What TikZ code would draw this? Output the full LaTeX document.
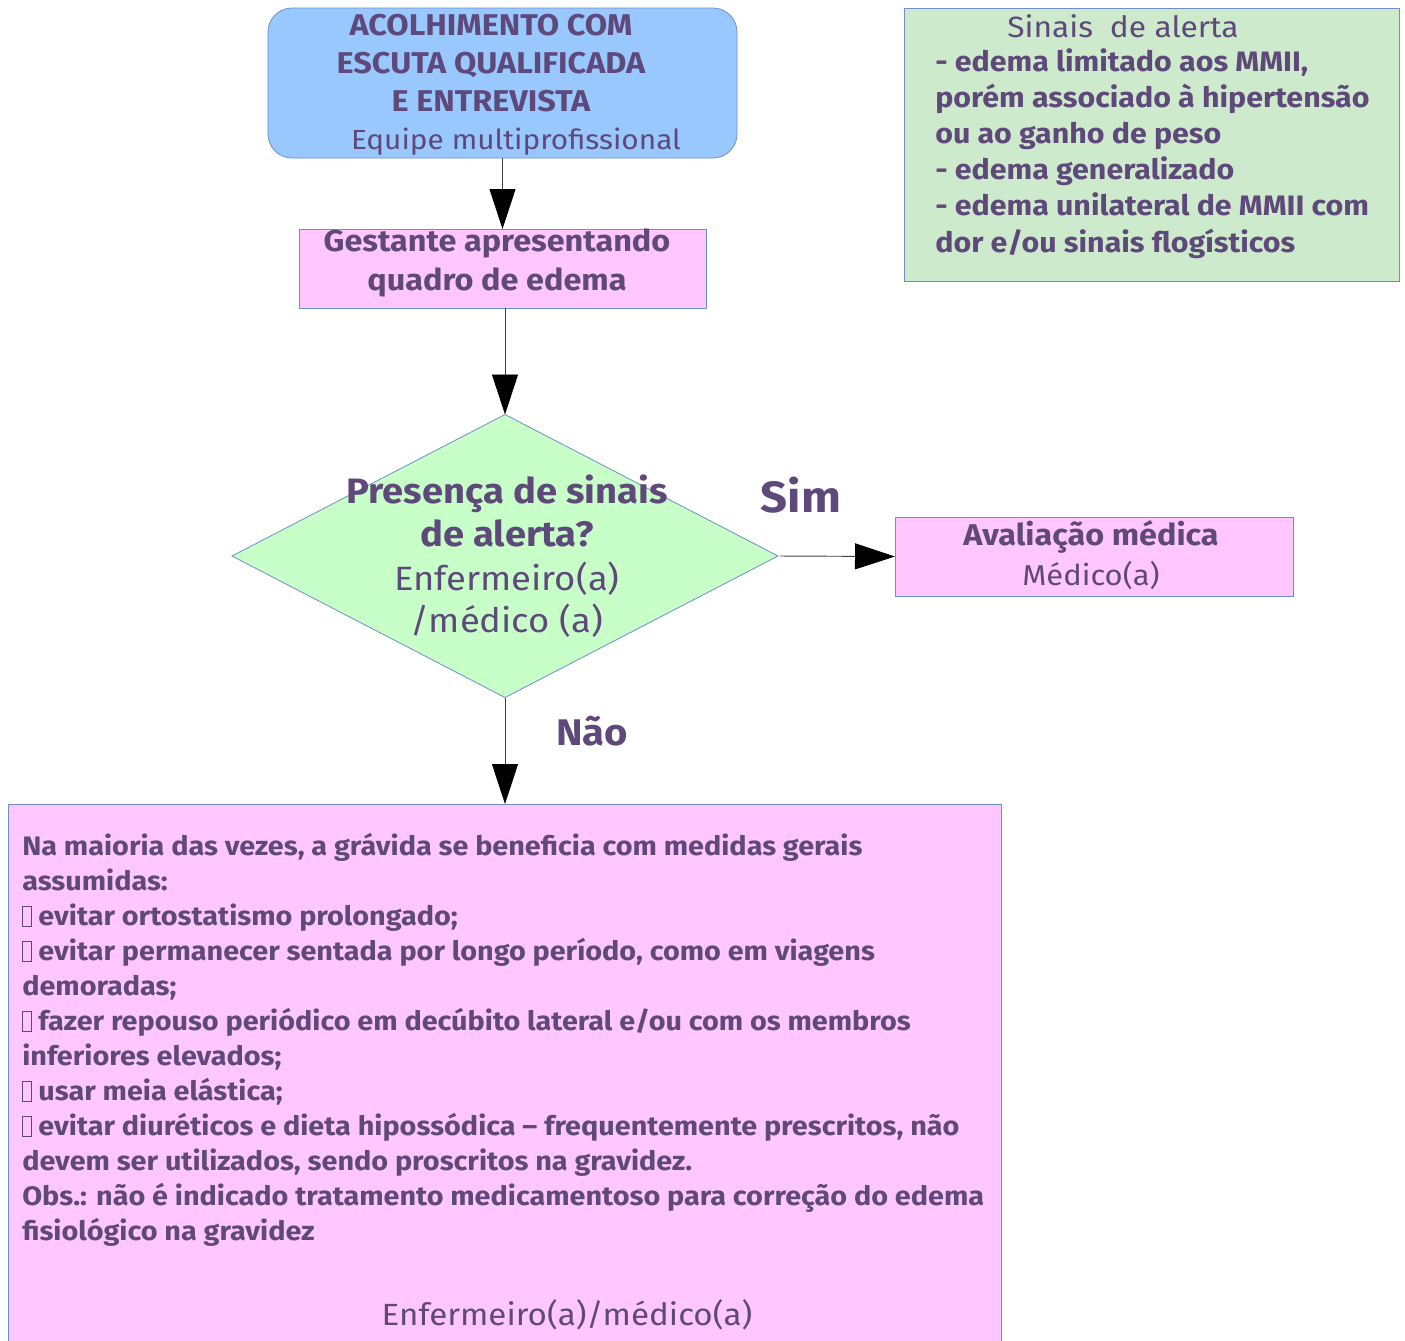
\documentclass[tikz,border=0pt]{standalone}
\usepackage{fontspec}
\setmainfont{Fira Sans}[FakeStretch=1.08]
\usetikzlibrary{arrows.meta,shapes.geometric}

\definecolor{ink}{RGB}{94,73,122}
\definecolor{bluefill}{RGB}{153,200,255}
\definecolor{pinkfill}{RGB}{255,198,255}
\definecolor{greenfill}{RGB}{200,255,200}
\definecolor{notefill}{RGB}{206,234,204}
\definecolor{edge}{RGB}{110,143,201}

% placeholder box for a bullet character the font did not have
\newcommand\nochar{\raisebox{-0.04em}{\setlength\fboxsep{0pt}\setlength\fboxrule{0.5pt}\fbox{\rule{0pt}{0.74em}\hspace{0.3em}}}}
\newcommand\fsz[2]{\fontsize{#1}{#2}\selectfont}

\tikzset{
  boxbase/.style={draw=edge, line width=0.6pt, inner sep=0pt, outer sep=0pt},
  bluebox/.style={boxbase, fill=bluefill, rounded corners=18pt},
  pinkbox/.style={boxbase, fill=pinkfill},
  notebox/.style={boxbase, fill=notefill},
  decision/.style={boxbase, fill=greenfill, shape=diamond},
  txt/.style={text=ink, inner sep=0pt, anchor=base},
  flow/.style={draw=black!75, line width=0.7pt, -{Triangle[width=19.5pt,length=30pt,color=black]}},
}

\begin{document}
\begin{tikzpicture}[x=0.75pt,y=-0.75pt]
\useasboundingbox (0,0) rectangle (1405,1340);

% boxes
\node[bluebox, minimum width=351.75pt, minimum height=112.5pt] (acolh) at (502.5,83) {};
\node[pinkbox, minimum width=305.25pt, minimum height=59.25pt] (gest) at (502.5,268.5) {};
\node[decision, minimum width=409.5pt, minimum height=212.25pt] (dec) at (505,556) {};
\node[pinkbox, minimum width=298.5pt, minimum height=59.25pt] (aval) at (1094,556.5) {};
\node[pinkbox, minimum width=744.75pt, minimum height=406.5pt] (medidas) at (504.5,1075) {};
\node[notebox, minimum width=371.25pt, minimum height=204.75pt] (alerta) at (1151.5,144.5) {};

% texts (multi-line nodes sit on the baseline of their last line)
\node[txt, font=\fsz{22.5pt}{28.5pt}\bfseries, align=center] (acolhT) at (491,111)
  {ACOLHIMENTO COM\\ESCUTA QUALIFICADA\\E ENTREVISTA};
\node[txt, font=\fsz{20.7pt}{28pt}] (acolhE) at (516,149) {Equipe multiprofissional};

\node[txt, font=\fsz{22.5pt}{29pt}\bfseries, align=center] (gestT) at (497,290)
  {Gestante apresentando\\quadro de edema};

\node[txt, font=\fsz{26.5pt}{32.25pt}\bfseries, align=center] (decT) at (507,546)
  {Presença de sinais\\de alerta?};
\node[txt, font=\fsz{25.3pt}{31.5pt}, align=center] (decR) at (507,632)
  {Enfermeiro(a)\\/médico (a)};

\node[txt, font=\fsz{32.8pt}{36pt}\bfseries] (sim) at (801,512) {Sim};
\node[txt, font=\fsz{27.8pt}{32pt}\bfseries] (nao) at (592,745) {Não};

\node[txt, font=\fsz{22.5pt}{30pt}\bfseries] (avalT) at (1091,545) {Avaliação médica};
\node[txt, font=\fsz{21.5pt}{30pt}] (avalR) at (1091,585) {Médico(a)};

\node[txt, font=\fsz{22pt}{27pt}] (alertaT) at (1123,37) {Sinais\ \ de alerta};
\node[txt, anchor=base west, font=\fsz{21.1pt}{27.15pt}\bfseries, align=left] (alertaL) at (935,252)
  {- edema limitado aos MMII,\\porém associado à hipertensão\\ou ao ganho de peso\\- edema generalizado\\- edema unilateral de MMII com\\dor e/ou sinais flogísticos};

\node[txt, anchor=base west, font=\fsz{20pt}{26.25pt}\bfseries, align=left] (medidasT) at (22,1240)
  {Na maioria das vezes, a grávida se beneficia com medidas gerais\\
   assumidas:\\
   \nochar{} evitar ortostatismo prolongado;\\
   \nochar{} evitar permanecer sentada por longo período, como em viagens\\
   demoradas;\\
   \nochar{} fazer repouso periódico em decúbito lateral e/ou com os membros\\
   inferiores elevados;\\
   \nochar{} usar meia elástica;\\
   \nochar{} evitar diuréticos e dieta hipossódica -- frequentemente prescritos, não\\
   devem ser utilizados, sendo proscritos na gravidez.\\
   Obs.: não é indicado tratamento medicamentoso para correção do edema\\
   fisiológico na gravidez};
\node[txt, font=\fsz{23pt}{28pt}] (medidasR) at (567,1325) {Enfermeiro(a)/médico(a)};

% connectors
\draw[flow] (acolh.south) -- (gest.north);
\draw[flow] (gest.south -| dec.north) -- (dec.north);
\draw[flow] (dec.east) ++(2,0) -- (aval.west);
\draw[flow] (dec.south) -- (dec.south |- medidas.north);
\end{tikzpicture}
\end{document}
